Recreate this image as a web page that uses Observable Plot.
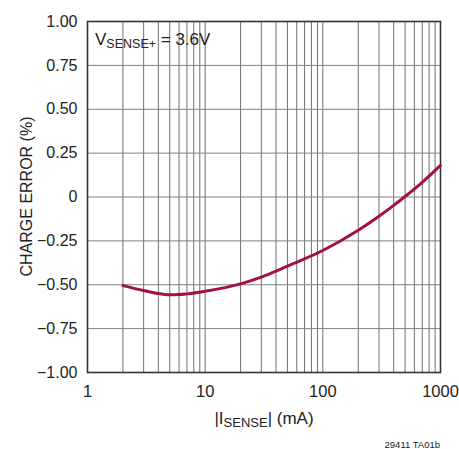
<!DOCTYPE html>
<html>
<head>
<meta charset="utf-8">
<script src="https://cdn.jsdelivr.net/npm/d3@7"></script>
<script src="https://cdn.jsdelivr.net/npm/@observablehq/plot@0.6"></script>
<style>
  html, body { margin: 0; padding: 0; background: #fff; }
  svg { font-family: "Liberation Sans", Arial, sans-serif; }
</style>
</head>
<body>
<div id="chart"></div>
<script>
// Data
const current = [2, 3, 4, 5, 6, 7, 10, 20, 30, 40, 50, 100, 200, 300, 400, 500, 700, 1000];
const chargeError = [-0.505, -0.533, -0.550, -0.557, -0.556, -0.552, -0.537, -0.495, -0.457, -0.423, -0.394, -0.305, -0.190, -0.110, -0.048, 0.003, 0.084, 0.180];
const xTicks = [1, 10, 100, 1000];
const yTicks = [-1, -0.75, -0.5, -0.25, 0, 0.25, 0.5, 0.75, 1];
const xGrid = [2,3,4,5,6,7,8,9,20,30,40,50,60,70,80,90,200,300,400,500,600,700,800,900];

const data = current.map((c, i) => ({x: c, y: chargeError[i]}));
const fmtY = v => v === 0 ? "0" : (v < 0 ? "\u2212" : "") + Math.abs(v).toFixed(2);

const W = 459, H = 449;
const mL = 87, mR = 19, mT = 21, mB = 77;

const chart = Plot.plot({
  width: W,
  height: H,
  marginLeft: mL,
  marginRight: mR,
  marginTop: mT,
  marginBottom: mB,
  style: {background: "#fff", overflow: "visible"},
  x: {type: "log", domain: [1, 1000], label: null},
  y: {domain: [-1, 1], label: null},
  marks: [
    Plot.ruleX(xGrid, {stroke: "#707070", strokeWidth: 1}),
    Plot.ruleX(xTicks.slice(1, -1), {stroke: "#707070", strokeWidth: 1}),
    Plot.ruleY(yTicks.slice(1, -1), {stroke: "#808080", strokeWidth: 1}),
    Plot.frame({stroke: "#333", strokeWidth: 1.6}),
    Plot.axisX({ticks: xTicks, tickFormat: d => String(d), tickSize: 0, tickPadding: 13, fontSize: 16.5, fill: "#222", label: null}),
    Plot.axisY({ticks: yTicks, tickFormat: fmtY, tickSize: 0, tickPadding: 10, fontSize: 16, fill: "#222", label: null}),
    Plot.line(data, {x: "x", y: "y", stroke: "#a3123a", strokeWidth: 3, curve: "monotone-x"})
  ]
});

document.getElementById("chart").appendChild(chart);

const svg = d3.select(chart);
// Y axis title
svg.append("text")
  .attr("transform", `translate(32,${mT + (H - mT - mB) / 2}) rotate(-90)`)
  .attr("text-anchor", "middle")
  .attr("font-size", 16)
  .attr("fill", "#222")
  .text("CHARGE ERROR (%)");

// X axis title with subscript
const xt = svg.append("text")
  .attr("x", 264)
  .attr("y", 424)
  .attr("text-anchor", "middle")
  .attr("font-size", 17)
  .attr("fill", "#222");
xt.append("tspan").text("|I");
xt.append("tspan").attr("font-size", 13).attr("dy", 3).text("SENSE");
xt.append("tspan").attr("dy", -3).text("| (mA)");

// Annotation
const an = svg.append("text")
  .attr("x", 95)
  .attr("y", 45)
  .attr("text-anchor", "start")
  .attr("font-size", 17)
  .attr("fill", "#222");
an.append("tspan").text("V");
an.append("tspan").attr("font-size", 12.5).attr("dy", 3).text("SENSE+");
an.append("tspan").attr("dy", -3).text(" = 3.6V");

// Footnote
svg.append("text")
  .attr("x", 440)
  .attr("y", 448)
  .attr("text-anchor", "end")
  .attr("font-size", 9.5)
  .attr("fill", "#222")
  .text("29411 TA01b");
</script>
</body>
</html>
